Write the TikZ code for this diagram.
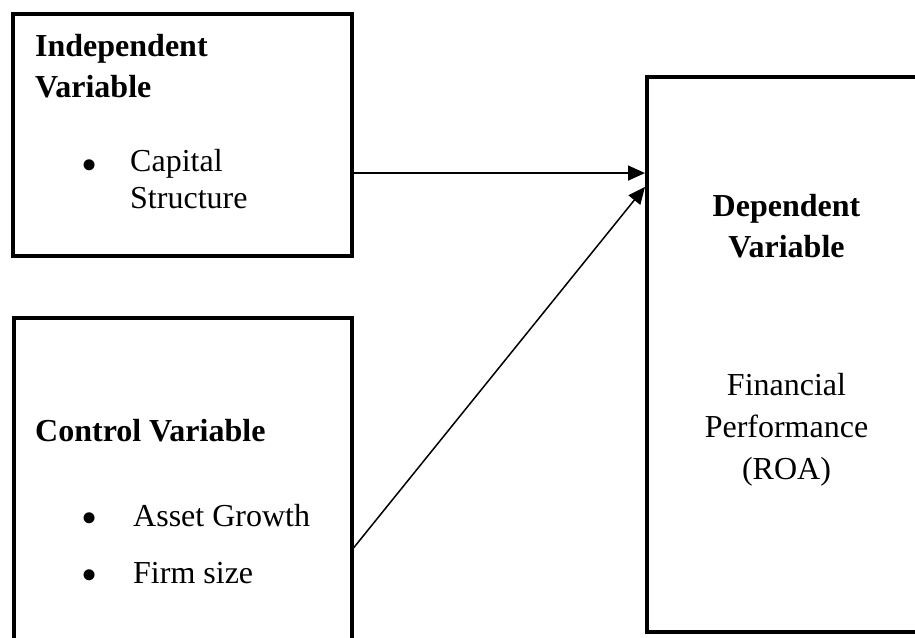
\documentclass[tikz,border=0pt]{standalone}
\usepackage{fontspec}
\setmainfont{Liberation Serif}
\usepackage{tikz}
\usetikzlibrary{arrows.meta, calc}

\tikzset{
  box/.style={draw, line width=4pt, inner sep=0pt},
  head/.style={font=\fontsize{32}{38}\selectfont\bfseries, anchor=base west, inner sep=0pt},
  item/.style={font=\fontsize{32}{38}\selectfont, anchor=base west, inner sep=0pt},
  dot/.style={font=\fontsize{46}{50}\selectfont, anchor=base, inner sep=0pt},
  link/.style={-{Triangle[length=17pt, width=15pt]}, line width=1.5pt},
}

\begin{document}
\begin{tikzpicture}[x=1pt, y=-1pt]
  \useasboundingbox (0,0) rectangle (915,637);
  \clip (0,0) rectangle (915,637);

  % the three boxes
  \node[box, minimum width=339pt, minimum height=241.5pt] (ind) at (182,134.75) {};
  \node[box, minimum width=337.5pt, minimum height=342.5pt] (ctl) at (182.75,488.75) {};
  \node[box, minimum width=293pt, minimum height=555pt] (dep) at (793.5,354) {};

  % independent variable
  \node[head] (indHeadA) at (35,56.7) {Independent};
  \node[head] (indHeadB) at (35,97.7) {Variable};
  \node[dot]  (indDot)   at (90,180) {•};
  \node[item] (indItemA) at (130,171.7) {Capital};
  \node[item] (indItemB) at (130,208) {Structure};

  % control variable
  \node[head] (ctlHead)  at (35,441.7) {Control Variable};
  \node[dot]  (ctlDotA)  at (90,533.7) {•};
  \node[item] (ctlItemA) at (133,526) {Asset Growth};
  \node[dot]  (ctlDotB)  at (90,590) {•};
  \node[item] (ctlItemB) at (133,583) {Firm size};

  % dependent variable
  \node[head, anchor=base] (depHeadA) at (786.5,216.7) {Dependent};
  \node[head, anchor=base] (depHeadB) at (786.5,257.7) {Variable};
  \node[item, anchor=base] (depItemA) at (786.5,395) {Financial};
  \node[item, anchor=base] (depItemB) at (786.5,437.5) {Performance};
  \node[item, anchor=base] (depItemC) at (786.5,479) {(ROA)};

  % links
  \coordinate (indOut) at ($(ind.north east)!0.656!(ind.south east)$);
  \coordinate (ctlOut) at ($(ctl.north east)!0.671!(ctl.south east)$);
  \coordinate (depIn)  at ($(dep.north west)!0.201!(dep.south west)$);
  \draw[link] (indOut) -- (indOut -| dep.west);
  \draw[link] (ctlOut) -- (depIn);
\end{tikzpicture}
\end{document}
